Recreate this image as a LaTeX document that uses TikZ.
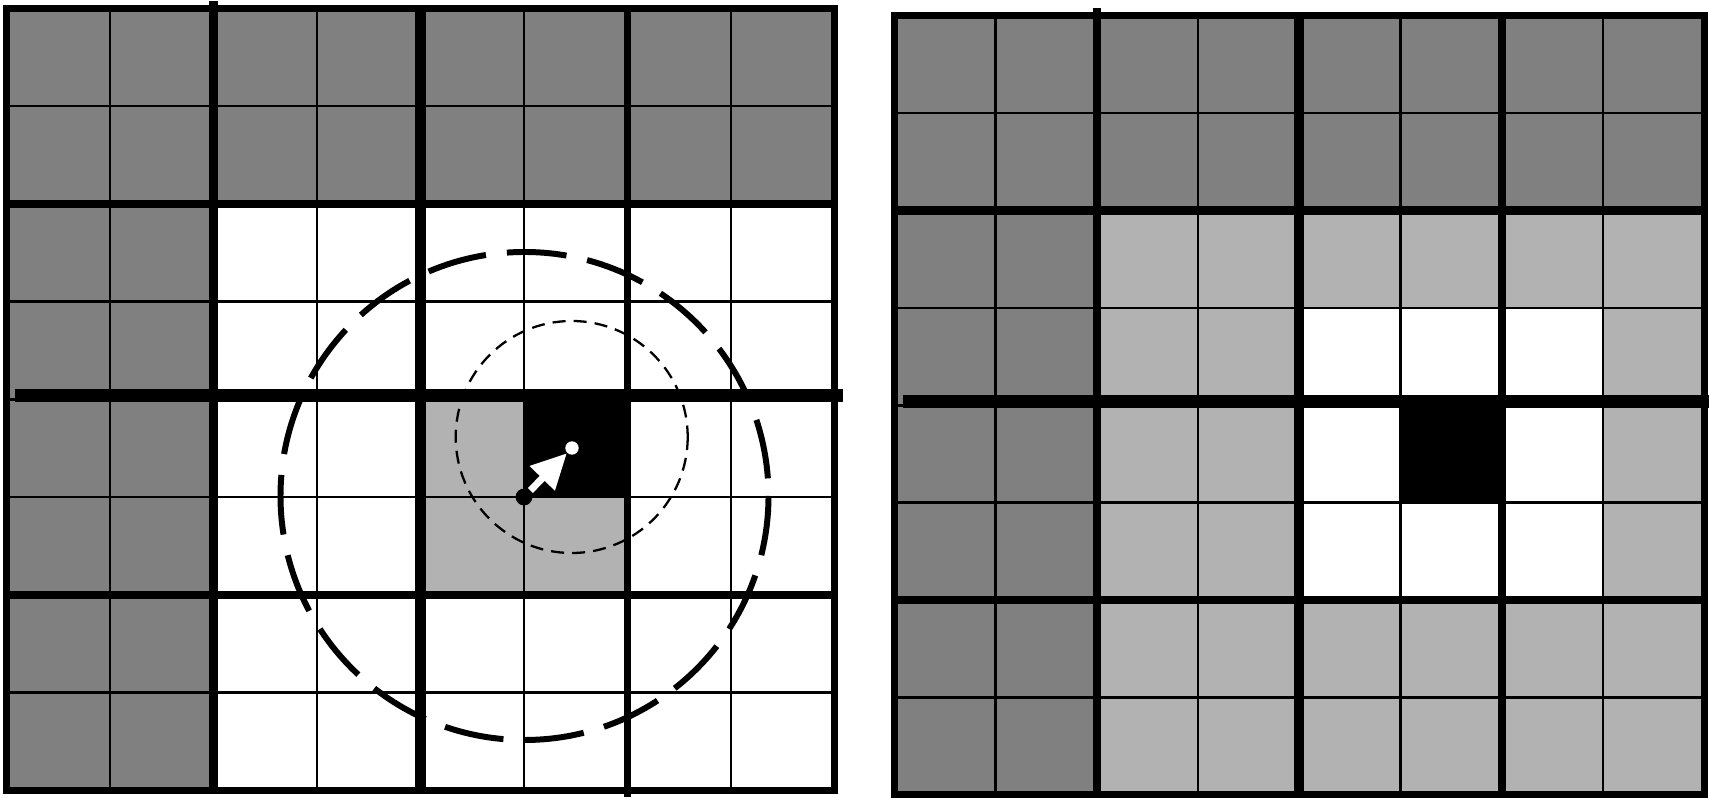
\documentclass[tikz,border=0pt]{standalone}
\usetikzlibrary{arrows.meta}
\begin{document}
\begin{tikzpicture}[x=0.01cm,y=-0.01cm,
  thinline/.style={line width=0.72pt},
  thickline/.style={line width=2.3pt},
  borderline/.style={line width=2pt},
  midline/.style={line width=3.6pt},
  darkcell/.style={fill=black!50},
  lightcell/.style={fill=black!30},
  bigring/.style={line width=1.7pt, dash pattern=on 17pt off 6pt},
  smallring/.style={line width=0.65pt, dash pattern=on 3.7pt off 2.3pt},
  dotnode/.style={circle, inner sep=0pt},
]
\useasboundingbox (0,0) rectangle (1709,798);
% ---------- left grid ----------
\begin{scope}[shift={(6.5,8.5)}, xscale=103.5, yscale=97.69]
  \fill[darkcell] (0,0) rectangle (8,2);
  \fill[darkcell] (0,2) rectangle (2,8);
  \fill[lightcell] (4,4) rectangle (5,6);
  \fill[lightcell] (5,5) rectangle (6,6);
  \fill[black] (5,4) rectangle (6,5);
  \foreach \i in {1,...,7} {
    \draw[thinline] (\i,0) -- (\i,8);
    \draw[thinline] (0,\i) -- (8,\i);
  }
  \draw[thickline] (2,-0.077) -- (2,8);
  \draw[thickline, line width=3pt] (4,0) -- (4,8.044);
  \draw[thickline, line width=2.1pt] (6,0) -- (6,8.074);
  \draw[thickline] (0,2) -- (8,2);
  \draw[thickline] (0,6) -- (8,6);
  \draw[borderline] (0,0) rectangle (8,8);
  \draw[midline] (0.082,3.96) -- (8.079,3.96);
\end{scope}
% ---------- right grid ----------
\begin{scope}[shift={(894.3,15.7)}, xscale=101.27, yscale=97.41]
  \fill[darkcell] (0,0) rectangle (8,2);
  \fill[darkcell] (0,2) rectangle (2,8);
  \fill[lightcell] (2,2) rectangle (8,8);
  \fill[white] (4,3) rectangle (7,6);
  \fill[black] (5,4) rectangle (6,5);
  \foreach \i in {1,...,7} {
    \draw[thinline] (\i,0) -- (\i,8);
    \draw[thinline] (0,\i) -- (8,\i);
  }
  \draw[thickline] (2,-0.079) -- (2,8);
  \draw[thickline, line width=2.8pt] (4,0) -- (4,8);
  \draw[thickline] (6,0) -- (6,8);
  \draw[thickline] (0,2) -- (8,2);
  \draw[thickline] (0,6) -- (8,6);
  \draw[borderline] (0,0) rectangle (8,8);
  \draw[midline] (0.089,3.958) -- (8.2,3.958);
\end{scope}
% ---------- circles and arrow ----------
\draw[bigring] (524.5,496) circle [radius=244];
\draw[smallring] (571.7,437) circle [radius=116];
\node[dotnode, fill=black, minimum size=4.8pt] (bdot) at (524,497) {};
\node[dotnode, fill=white, minimum size=3.8pt] (wdot) at (572,448) {};
\draw[white, line width=2pt, -{Triangle[length=10pt, width=9.5pt]}] (bdot) -- (wdot);
\end{tikzpicture}
\end{document}
